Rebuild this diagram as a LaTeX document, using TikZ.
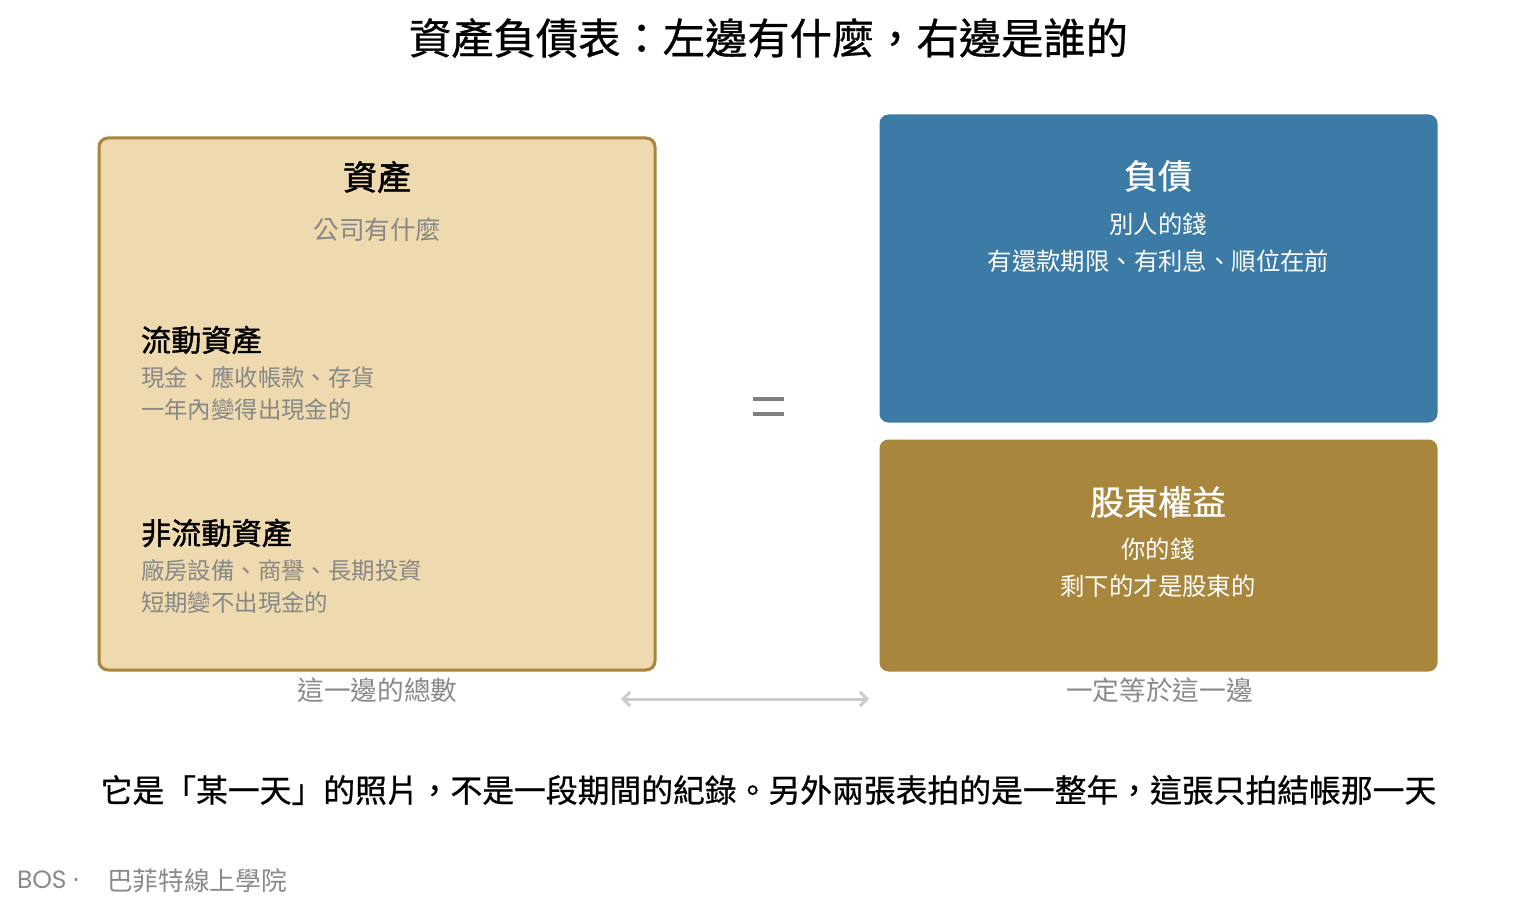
\documentclass[tikz,border=0pt]{standalone}
\usepackage{fontspec}
\newfontfamily\cjk{Noto Sans CJK TC}
\newfontfamily\cjkm{Noto Sans CJK TC}[FakeBold=0.7]
\newfontfamily\cjkb{Noto Sans CJK TC}[FakeBold=1.3]
\newfontfamily\latinsf{Poppins}
\usetikzlibrary{arrows.meta}
\definecolor{leftfill}{HTML}{EEDAAE}
\definecolor{leftline}{HTML}{A8853A}
\definecolor{bluebox}{HTML}{3C7BA6}
\definecolor{goldbox}{HTML}{A8863C}
\definecolor{graytxt}{HTML}{878787}
\definecolor{captxt}{HTML}{8A8A8A}
\definecolor{eqgray}{HTML}{7F7F7F}
\definecolor{arrgray}{HTML}{CCCCCC}
\tikzset{
  fs/.style={font=\cjk\fontsize{#1}{#1}\selectfont},
  fsm/.style={font=\cjkm\fontsize{#1}{#1}\selectfont},
  fsb/.style={font=\cjkb\fontsize{#1}{#1}\selectfont},
  txt/.style={inner sep=0pt, outer sep=0pt},
  panel/.style={rounded corners=9pt, inner sep=0pt, outer sep=0pt},
  eqbar/.style={draw=eqgray, line width=4pt},
  bidir/.style={draw=arrgray, line width=3pt, {Straight Barb[length=7pt,width=14pt]}-{Straight Barb[length=7pt,width=14pt]}},
}
\begin{document}
\begin{tikzpicture}[x=1pt,y=1pt]
\useasboundingbox (0,0) rectangle (1535,-909);
\fill[white] (0,0) rectangle (1535,-909);
% title
\node[txt, fsm=42.3] (title) at (768.5,-38) {資產負債表：左邊有什麼，右邊是誰的};
% left panel
\node[panel, draw=leftline, line width=3pt, fill=leftfill, minimum width=556pt, minimum height=532pt] (assets) at (377,-404) {};
\node[txt, fsb=34] (asstitle) at (377,-177) {資產};
\node[txt, fs=25.6, text=graytxt] (asssub) at (377.5,-230) {公司有什麼};
\node[txt, fsb=30.2, anchor=west] (cur) at (141,-340) {流動資產};
\node[txt, fs=23.4, text=graytxt, anchor=west] (cur1) at (141,-377) {現金、應收帳款、存貨};
\node[txt, fs=23.4, text=graytxt, anchor=west] (cur2) at (141,-410) {一年內變得出現金的};
\node[txt, fsb=30.2, anchor=west] (ncur) at (141,-533) {非流動資產};
\node[txt, fs=23.4, text=graytxt, anchor=west] (ncur1) at (141,-570) {廠房設備、商譽、長期投資};
\node[txt, fs=23.4, text=graytxt, anchor=west] (ncur2) at (141,-603) {短期變不出現金的};
% right panels
\node[panel, fill=bluebox, minimum width=558pt, minimum height=308pt] (liab) at (1158.5,-268.5) {};
\node[txt, fsm=34, text=white] (liabt) at (1158,-176) {負債};
\node[txt, fs=24.4, text=white] (liab1) at (1158,-224) {別人的錢};
\node[txt, fs=24.4, text=white] (liab2) at (1158.5,-261) {有還款期限、有利息、順位在前};
\node[panel, fill=goldbox, minimum width=558pt, minimum height=232pt] (equity) at (1158.5,-555.5) {};
\node[txt, fsm=34, text=white] (eqt) at (1158,-502) {股東權益};
\node[txt, fs=24.4, text=white] (eq1) at (1158,-549) {你的錢};
\node[txt, fs=24.4, text=white] (eq2) at (1158,-586) {剩下的才是股東的};
% equals sign
\coordinate (e1a) at (753,-399); \coordinate (e1b) at (784,-399);
\coordinate (e2a) at (753,-414); \coordinate (e2b) at (784,-414);
\draw[eqbar] (e1a) -- (e1b);
\draw[eqbar] (e2a) -- (e2b);
% captions
\node[txt, fs=26.7, text=captxt] (capL) at (377.5,-690) {這一邊的總數};
\node[txt, fs=26.7, text=captxt] (capR) at (1159.5,-690) {一定等於這一邊};
\coordinate (arrL) at (621,-699);
\coordinate (arrR) at (869,-699);
\draw[bidir] (arrL) -- (arrR);
% bottom sentence
\node[txt, fsm=31.8] (note) at (768.5,-790) {它是「某一天」的照片，不是一段期間的紀錄。另外兩張表拍的是一整年，這張只拍結帳那一天};
% footer
\node[txt, anchor=west, text=captxt, font=\latinsf\fontsize{25}{25}\selectfont] (bos) at (17,-880) {BOS ·};
\node[txt, anchor=west, fs=25.7, text=captxt] (bfs) at (107,-881) {巴菲特線上學院};
\end{tikzpicture}
\end{document}
